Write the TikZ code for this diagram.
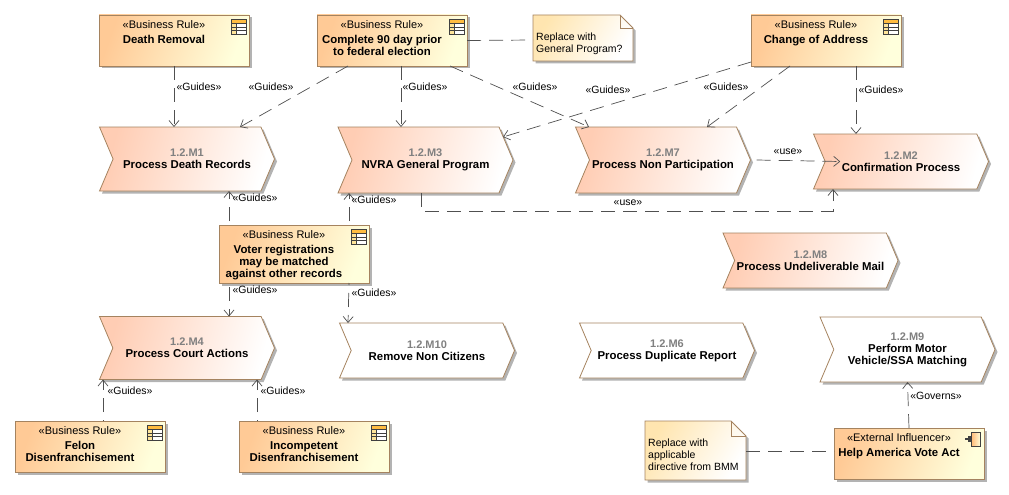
\documentclass[tikz,border=0pt]{standalone}
\usepackage{fontspec}
\setmainfont{Liberation Sans}
\usetikzlibrary{arrows.meta,shadows,shapes.symbols}
\definecolor{EDGE}{HTML}{A5835F}
\definecolor{WIRE}{HTML}{505050}
\definecolor{HOT}{HTML}{FFCA96}
\definecolor{WARM}{HTML}{FFFFDC}
\definecolor{PEACH}{HTML}{FFCDB4}
\tikzset{
BOX/.style={draw=EDGE,line width=0.8pt,inner sep=0pt,outer sep=0pt,drop shadow={shadow xshift=2.5pt,shadow yshift=-2.5pt,fill=black!50,opacity=.6}},
PROCESS/.style={BOX,shape=signal,signal to=east,signal from=west,signal pointer angle=134,minimum width=175pt,minimum height=#1,align=center,left color=PEACH,right color=white,shading angle=75},
PROCESS/.default = 64pt,
BLANK/.style={PROCESS=#1,left color=white,right color=white},
RULE/.style={BOX,rectangle,minimum width=150pt,minimum height=51pt,left color=HOT,right color=WARM,shading angle=70},
NOTE/.style={draw=EDGE,line width=0.8pt,left color=WARM!80!orange,right color=white,shading angle=60,drop shadow={shadow xshift=2.5pt,shadow yshift=-2.5pt,fill=black!50,opacity=.6}},
NOTETEXT/.style={inner sep=0pt,align=left,anchor=north west,text=black,font=\fontsize{10.5}{12}\selectfont},
TAG/.style={inner sep=0pt,text=black,font=\fontsize{10.5}{12}\selectfont},
DEP/.style={draw=WIRE,line width=0.7pt,dash pattern=on 14pt off 8pt},
GUIDE/.style={DEP,-{Straight Barb[length=6pt,width=10pt,line width=0.7pt]}},
}
\newcommand{\boldfont}{\fontsize{11.4}{12}\selectfont\bfseries}
\newcommand{\ruletext}[2]{\parbox[t][51pt][t]{130pt}{\centering\vspace{6pt}#1\\[3pt]{\boldfont #2\par}}\kern20pt}
\newcommand{\proctext}[2]{{\color{black!50}\textbf{#1}}\\\boldfont #2}
\begin{document}
\begin{tikzpicture}[x=1pt,y=-1pt,font=\fontsize{11}{12}\selectfont]
	\useasboundingbox (0,0) rectangle (1009,495);
	% business rules
	\node[RULE] (rDeath) at (174,40.5) {\ruletext{«Business Rule»}{Death Removal}};
	\node[RULE] (rComplete) at (392,40.5) {\ruletext{«Business Rule»}{Complete 90 day prior\\to federal election}};
	\node[RULE] (rAddress) at (826,40.5) {\ruletext{«Business Rule»}{Change of Address}};
	\node[RULE,minimum height=58pt] (rVoter) at (294,254) {\parbox[t][58pt][t]{130pt}{\centering\vspace{6pt}«Business Rule»\\[3pt]{\boldfont Voter registrations\\may be matched\\against other records\par}}\kern20pt};
	\node[RULE] (rFelon) at (90,446.5) {\ruletext{«Business Rule»}{Felon\\Disenfranchisement}};
	\node[RULE] (rIncompetent) at (314,446.5) {\ruletext{«Business Rule»}{Incompetent\\Disenfranchisement}};
	\node[RULE] (xHelp) at (909,453.5) {\ruletext{«External Influencer»}{Help America Vote Act}};
	% processes
	\node[PROCESS] (mDeath) at (187,159) {\proctext{1.2.M1}{Process Death Records}};
	\node[PROCESS=66pt] (mNvra) at (425.5,160) {\proctext{1.2.M3}{NVRA General Program}};
	\node[PROCESS=66pt] (mParticip) at (663,160) {\proctext{1.2.M7}{Process Non Participation}};
	\node[PROCESS=55pt] (mConfirm) at (901,161.5) {\proctext{1.2.M2}{Confirmation Process}};
	\node[PROCESS=55pt] (mMail) at (810.5,260.5) {\proctext{1.2.M8}{Process Undeliverable Mail}};
	\node[PROCESS=63pt] (mCourt) at (187,348) {\proctext{1.2.M4}{Process Court Actions}};
	\node[BLANK=55pt] (mCitizens) at (427,350.5) {\proctext{1.2.M10}{Remove Non Citizens}};
	\node[BLANK=55pt] (mDuplicate) at (667,350.5) {\proctext{1.2.M6}{Process Duplicate Report}};
	\node[BLANK=65pt] (mMotor) at (907.5,349.5) {\proctext{1.2.M9}{Perform Motor\\\boldfont Vehicle/SSA Matching}};
	% notes
	\path[NOTE] (533,15) -- (620,15) -- (633,28) -- (633,61) -- (533,61) -- cycle;
	\path[draw=EDGE,line width=0.8pt] (620,15) -- (620,28) -- (633,28);
	\node[NOTETEXT] (nGeneral) at (536,33) {Replace with\\General Program?};
	\path[NOTE] (645,421) -- (731,421) -- (746,436) -- (746,480) -- (645,480) -- cycle;
	\path[draw=EDGE,line width=0.8pt] (731,421) -- (731,436) -- (746,436);
	\node[NOTETEXT] (nApplicable) at (648,439) {Replace with\\applicable\\directive from BMM};
	\coordinate (cGeneral) at (533,40);
	\coordinate (cApplicable) at (746,451);
	% icons
	\foreach \r in {rDeath,rComplete,rAddress,rVoter,rFelon,rIncompetent} {
		\begin{scope}[shift={(\r.north east)}]
			\fill[white] (-18,4) rectangle (-3,19);
			\fill[orange!70!yellow!75] (-18,4) rectangle (-3,8);
			\fill[orange!50!yellow!40] (-18,8) rectangle (-13,19);
			\draw[black!75,line width=0.7pt] (-18,4) rectangle (-3,19);
			\draw[black!75,line width=0.5pt] (-18,8) -- (-3,8) (-18,12) -- (-3,12) (-18,15.5) -- (-3,15.5) (-13,8) -- (-13,19);
		\end{scope}
	}
	\begin{scope}[shift={(xHelp.north east)}]
		\draw[black!75,line width=0.7pt,left color=HOT!80!orange,right color=WARM] (-12.5,4) rectangle (-3.5,18);
		\draw[black!75,line width=2pt] (-19,11) -- (-12,11);
		\fill[black!75] (-16,8) rectangle (-12,14);
	\end{scope}
	% dependencies
	\draw[GUIDE] (rDeath.south) -- (rDeath.south |- mDeath.north);
	\draw[GUIDE] ([xshift=-44pt]rComplete.south) -- ([xshift=53pt]mDeath.north);
	\draw[GUIDE] ([xshift=9pt]rComplete.south) -- ([xshift=-24.5pt]mNvra.north);
	\draw[GUIDE] ([xshift=58pt]rComplete.south) -- ([xshift=-74pt]mParticip.north);
	\draw[GUIDE] ([yshift=4pt]rAddress.south west) -- ([xshift=77.5pt,yshift=-10pt]mNvra.north);
	\draw[GUIDE] ([xshift=-36pt]rAddress.south) -- ([xshift=44pt]mParticip.north);
	\draw[GUIDE] ([xshift=30pt]rAddress.south) -- ([xshift=-45pt]mConfirm.north);
	\draw[GUIDE] ([xshift=6pt]mParticip.east) -- ([xshift=15pt]mConfirm.west);
	\draw[GUIDE] ([xshift=-4.5pt]mNvra.south) -- ++(0,18) -| ([xshift=-68pt]mConfirm.south);
	\draw[GUIDE,dash phase=18pt] ([xshift=-65pt]rVoter.north) -- ([xshift=42pt]mDeath.south);
	\draw[GUIDE,dash phase=18pt] ([xshift=55pt]rVoter.north) -- ([xshift=-76.5pt]mNvra.south);
	\draw[GUIDE,dash phase=18pt] ([xshift=-65pt]rVoter.south) -- ([xshift=42pt]mCourt.north);
	\draw[GUIDE,dash phase=12pt] ([xshift=55pt]rVoter.south) -- ([xshift=-79pt]mCitizens.north);
	\draw[GUIDE,dash phase=13pt] ([xshift=13pt]rFelon.north) -- ([xshift=-84pt]mCourt.south);
	\draw[GUIDE,dash phase=13pt] ([xshift=-57pt]rIncompetent.north) -- ([xshift=70pt]mCourt.south);
	\draw[GUIDE] (xHelp.north) -- (mMotor.south);
	\draw[DEP] (rComplete.east) -- (cGeneral);
	\draw[DEP] (cApplicable) -- (xHelp.west |- cApplicable);
	% labels
	\node[TAG] (tDeath) at (199,87) {«Guides»};
	\node[TAG] (tComplete) at (271,87) {«Guides»};
	\node[TAG] (tNvra) at (425,87) {«Guides»};
	\node[TAG] (tParticip) at (535,87) {«Guides»};
	\node[TAG] (tAddress) at (608,90) {«Guides»};
	\node[TAG] (tAddressB) at (726,87) {«Guides»};
	\node[TAG] (tConfirm) at (881,90) {«Guides»};
	\node[TAG] (tUse) at (788,152) {«use»};
	\node[TAG] (tUseB) at (628,203) {«use»};
	\node[TAG] (tVoterA) at (255,198) {«Guides»};
	\node[TAG] (tVoterB) at (374,200) {«Guides»};
	\node[TAG] (tVoterC) at (255,290) {«Guides»};
	\node[TAG] (tVoterD) at (374,293) {«Guides»};
	\node[TAG] (tFelon) at (130,391) {«Guides»};
	\node[TAG] (tIncompetent) at (283,391) {«Guides»};
	\node[TAG] (tGoverns) at (936,396) {«Governs»};
\end{tikzpicture}
\end{document}
